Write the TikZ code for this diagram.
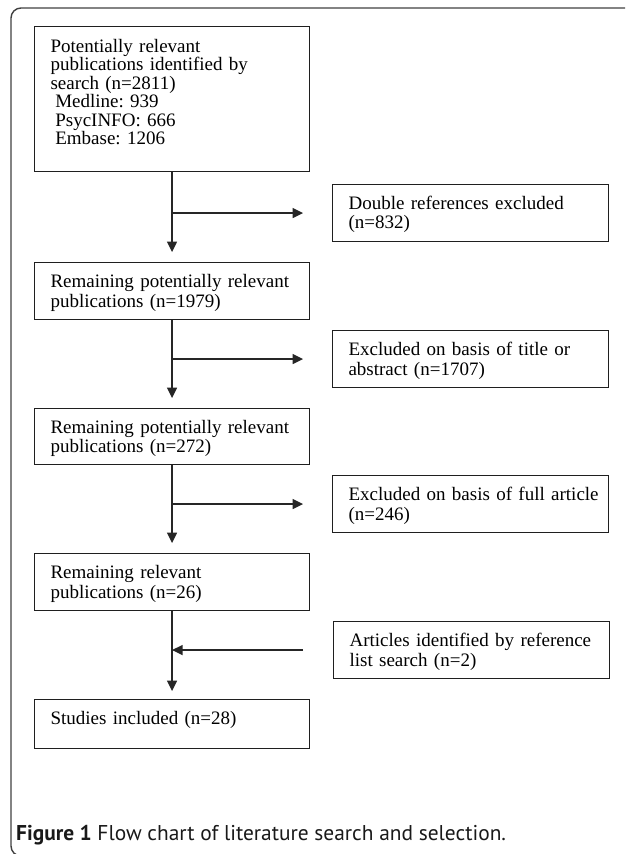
\documentclass[tikz,border=0pt]{standalone}
\usepackage{fontspec}
\setmainfont{Liberation Serif}
\newfontfamily\capfont{PT Sans}
\usetikzlibrary{arrows.meta,calc}
\frenchspacing
\begin{document}
\begin{tikzpicture}[x=1pt,y=-1pt,
  flowbox/.style={draw=black!88, line width=1.1pt, anchor=north west,
    inner xsep=16pt, inner ysep=0pt, text width=243pt, align=left,
    font=\fontsize{19}{19.5}\selectfont, text=black},
  conn/.style={draw=black!85, line width=1.4pt, -{Triangle[length=10.5pt,width=10pt]}},
  frameline/.style={draw=black!75, line width=1.4pt, rounded corners=10pt}]
\useasboundingbox (0,0) rectangle (625,854);
\clip (0,0) rectangle (625,854);
\draw[frameline] (640,8) -- (11,8) -- (11,856) -- (60,856);

\node[flowbox, text height=26pt, text depth=119pt, font=\fontsize{19}{18.4}\selectfont] (b1) at (34,26)
  {Potentially relevant\\publications identified by\\search (n=2811)\\\hspace*{4.75pt}Medline: 939\\\hspace*{4.75pt}PsycINFO: 666\\\hspace*{4.75pt}Embase: 1206};
\node[flowbox, text height=25pt, text depth=32pt] (b2) at (34,262)
  {Remaining potentially relevant\\publications (n=1979)};
\node[flowbox, text height=24.5pt, text depth=31.5pt] (b3) at (34,408)
  {Remaining potentially relevant\\publications (n=272)};
\node[flowbox, text height=25pt, text depth=32pt] (b4) at (34,553)
  {Remaining relevant\\publications (n=26)};
\node[flowbox, text height=25pt, text depth=24pt] (b5) at (34,699)
  {Studies included (n=28)};

\node[flowbox, text width=244pt, text height=24.5pt, text depth=32.5pt] (s1) at (332,184)
  {Double references excluded\\(n=832)};
\node[flowbox, text width=244pt, text height=25pt, text depth=32pt] (s2) at (332,330)
  {Excluded on basis of title or\\abstract (n=1707)};
\node[flowbox, text width=244pt, text height=25pt, text depth=32pt] (s3) at (332,475)
  {\mbox{Excluded on basis of full article}\\(n=246)};
\node[flowbox, text width=244pt, text height=25pt, text depth=32pt] (s4) at (333,621)
  {\mbox{Articles identified by reference}\\list search (n=2)};

\draw[conn, shorten >=10pt] (b1) -- (b2);
\draw[conn, shorten >=10pt] (b2) -- (b3);
\draw[conn, shorten >=10pt] (b3) -- (b4);
\draw[conn, shorten >=8pt] (b4) -- (b5);

\coordinate (j1) at (b1.south |- s1.west);
\coordinate (j2) at (b2.south |- s2.west);
\coordinate (j3) at (b3.south |- s3.west);
\coordinate (j4) at (b4.south |- s4.west);
\draw[conn, shorten >=29pt] (j1) -- (s1.west);
\draw[conn, shorten >=29pt] (j2) -- (s2.west);
\draw[conn, shorten >=29pt] (j3) -- (s3.west);
\draw[conn, shorten <=30pt] (s4.west) -- (j4);

\node[anchor=base west, inner sep=0pt, font=\capfont\fontsize{21.4}{26}\selectfont, text=black!90] (cap) at (16,840)
  {\textbf{Figure 1} Flow chart of literature search and selection.};
\end{tikzpicture}
\end{document}
